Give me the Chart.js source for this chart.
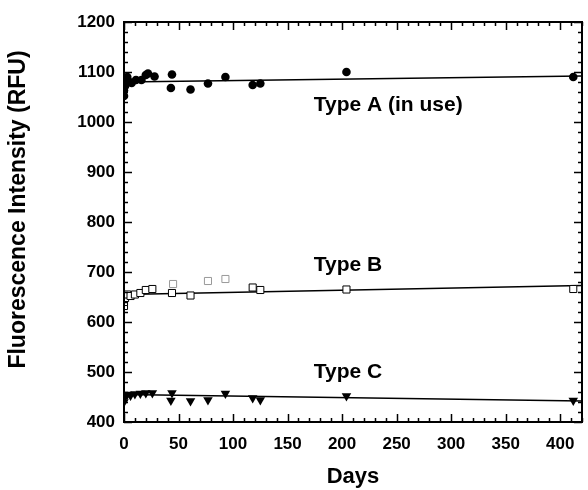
<!DOCTYPE html>
<html>
<head>
<meta charset="utf-8">
<script src="https://cdn.jsdelivr.net/npm/chart.js@4.4.1/dist/chart.umd.min.js"></script>
<style>
  body { margin: 0; background: #fff; }
</style>
</head>
<body>
<canvas id="grafico" width="588" height="490"></canvas>
<script>
// Datos (dias vs RFU)
const diasA = [0, 0, 1, 2, 3, 5, 7, 11, 16, 20, 22, 28, 44, 43, 61, 77, 93, 118, 125, 204, 412];
const rfuA  = [1052, 1063, 1072, 1083, 1090, 1080, 1078, 1084, 1084, 1094, 1097, 1091, 1095, 1068, 1065, 1077, 1090, 1074, 1077, 1100, 1090];

const diasB = [0, 0, 1, 3, 6, 10, 15, 20, 26, 44, 45, 61, 77, 93, 118, 125, 204, 412];
const rfuB  = [632, 640, 648, 655, 652, 655, 658, 664, 666, 658, 676, 653, 682, 686, 669, 664, 665, 666];
const tenuesB = [10, 12, 13]; // cuadros que casi no se ven

const diasC = [0, 0, 1, 3, 6, 10, 15, 20, 26, 44, 43, 61, 77, 93, 118, 125, 204, 412];
const rfuC  = [440, 447, 452, 455, 453, 456, 457, 458, 458, 458, 443, 442, 444, 457, 448, 444, 452, 443];

// rectas de ajuste (extremos)
const ajusteDias = [0, 420];
const ajusteA = [1080, 1092];
const ajusteB = [655, 673];
const ajusteC = [455, 442];

const ticksX = [0, 50, 100, 150, 200, 250, 300, 350, 400];
const ticksY = [400, 500, 600, 700, 800, 900, 1000, 1100, 1200];

const etiquetas = [
  { texto: 'Type A (in use)', dia: 174, rfu: 1034 },
  { texto: 'Type B', dia: 174, rfu: 714 },
  { texto: 'Type C', dia: 174, rfu: 500 }
];

const tituloY = 'Fluorescence Intensity (RFU)';

const puntos = (xs, ys) => xs.map((d, i) => ({ x: d, y: ys[i] }));

const fuente = "'Liberation Sans', Arial, sans-serif";

// Marco, marcas hacia adentro, textos
const marcoPlugin = {
  id: 'marco',
  afterDraw(chart) {
    const { ctx, chartArea: { left, right, top, bottom }, scales: { x, y } } = chart;
    ctx.save();
    ctx.strokeStyle = '#000';
    ctx.lineWidth = 1.5;
    for (let v = 0; v <= 420; v += 10) {
      const px = Math.round(x.getPixelForValue(v)) + 0.5;
      const largo = v % 50 === 0 ? 8 : 4;
      ctx.beginPath();
      ctx.moveTo(px, bottom); ctx.lineTo(px, bottom - largo);
      ctx.moveTo(px, top); ctx.lineTo(px, top + largo);
      ctx.stroke();
    }
    for (let v = 400; v <= 1200; v += 20) {
      const py = Math.round(y.getPixelForValue(v)) + 0.5;
      const largo = v % 100 === 0 ? 8 : 4;
      ctx.beginPath();
      ctx.moveTo(left, py); ctx.lineTo(left + largo, py);
      ctx.moveTo(right, py); ctx.lineTo(right - largo, py);
      ctx.stroke();
    }
    ctx.lineWidth = 2;
    ctx.strokeRect(left, top, right - left, bottom - top);

    ctx.fillStyle = '#000';
    ctx.font = 'bold 21px ' + fuente;
    ctx.textBaseline = 'middle';
    ctx.textAlign = 'left';
    etiquetas.forEach(e => {
      ctx.fillText(e.texto, x.getPixelForValue(e.dia), y.getPixelForValue(e.rfu));
    });

    // titulo eje Y
    ctx.translate(19, y.getPixelForValue(825));
    ctx.rotate(-Math.PI / 2);
    ctx.textAlign = 'center';
    ctx.font = 'bold 23px ' + fuente;
    ctx.fillText(tituloY, 0, 0);
    ctx.restore();
  }
};

const config = {
  type: 'scatter',
  data: {
    datasets: [
      {
        label: 'Type A',
        data: puntos(diasA, rfuA),
        pointStyle: 'circle',
        pointRadius: 4.3,
        backgroundColor: '#000',
        borderColor: '#000',
        borderWidth: 0
      },
      {
        label: 'Type B',
        data: puntos(diasB, rfuB),
        pointStyle: 'rect',
        pointRadius: 5,
        backgroundColor: '#fff',
        borderColor: ctx => tenuesB.includes(ctx.dataIndex) ? '#999' : '#000',
        borderWidth: 1
      },
      {
        label: 'Type C',
        data: puntos(diasC, rfuC),
        pointStyle: 'triangle',
        rotation: 180,
        pointRadius: 5.5,
        backgroundColor: '#000',
        borderColor: '#000',
        borderWidth: 0
      },
      {
        label: 'Ajuste A',
        data: puntos(ajusteDias, ajusteA),
        showLine: true, pointRadius: 0, borderColor: '#000', borderWidth: 1.5
      },
      {
        label: 'Ajuste B',
        data: puntos(ajusteDias, ajusteB),
        showLine: true, pointRadius: 0, borderColor: '#000', borderWidth: 1.5
      },
      {
        label: 'Ajuste C',
        data: puntos(ajusteDias, ajusteC),
        showLine: true, pointRadius: 0, borderColor: '#000', borderWidth: 1.5
      }
    ]
  },
  options: {
    responsive: false,
    animation: false,
    layout: { padding: { left: 0, top: 22, right: 5, bottom: 0 } },
    plugins: {
      legend: { display: false },
      tooltip: { enabled: false }
    },
    scales: {
      x: {
        type: 'linear',
        min: 0,
        max: 420,
        afterBuildTicks: s => { s.ticks = ticksX.map(v => ({ value: v })); },
        afterFit: s => { s.height = 68; },
        grid: { display: false, drawTicks: false },
        border: { display: false },
        ticks: {
          padding: 12,
          maxRotation: 0,
          color: '#000',
          callback: v => String(v),
          font: { family: fuente, size: 17, weight: 'bold' }
        },
        title: {
          display: true,
          text: 'Days',
          color: '#000',
          padding: { top: 0, bottom: 0 },
          font: { family: fuente, size: 22, weight: 'bold' }
        }
      },
      y: {
        min: 400,
        max: 1200,
        afterBuildTicks: s => { s.ticks = ticksY.map(v => ({ value: v })); },
        afterFit: s => { s.width = 124; },
        grid: { display: false, drawTicks: false },
        border: { display: false },
        ticks: {
          padding: 9,
          color: '#000',
          callback: v => String(v),
          font: { family: fuente, size: 17, weight: 'bold' }
        }
      }
    }
  },
  plugins: [marcoPlugin]
};

new Chart(document.getElementById('grafico'), config);
</script>
</body>
</html>
